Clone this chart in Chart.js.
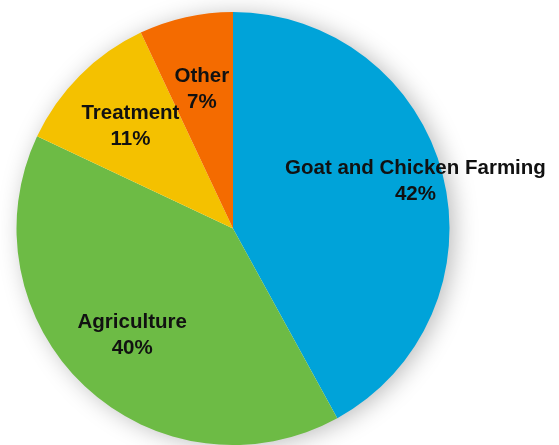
<!DOCTYPE html>
<html>
<head>
<meta charset="utf-8">
<script src="https://cdn.jsdelivr.net/npm/chart.js@4.4.1/dist/chart.umd.min.js"></script>
<style>
    html, body { margin: 0; padding: 0; background: #fff; }
    #wrap { width: 559px; height: 445px; position: relative; }
</style>
</head>
<body>
<div id="wrap"><canvas id="sectorChart"></canvas></div>
<script>
// Share of activity by sector (percent)
const sectors = ['Goat and Chicken Farming', 'Agriculture', 'Treatment', 'Other'];
const shares = [42, 40, 11, 7];
const sliceColors = ['#00A3D9', '#6DBB45', '#F4C100', '#F46B00'];

// soft grey shadow behind the whole pie
const pieShadow = {
    id: 'pieShadow',
    beforeDatasetsDraw(chart) {
        const arc = chart.getDatasetMeta(0).data[0];
        if (!arc) return;
        const ctx = chart.ctx;
        ctx.save();
        ctx.shadowColor = 'rgba(0,0,0,0.28)';
        ctx.shadowBlur = 24;
        ctx.shadowOffsetX = 5;
        ctx.shadowOffsetY = 2;
        ctx.fillStyle = '#fff';
        ctx.beginPath();
        ctx.arc(arc.x, arc.y, arc.outerRadius - 1, 0, Math.PI * 2);
        ctx.fill();
        ctx.restore();
    }
};

// name + percent written inside each slice
const sliceLabels = {
    id: 'sliceLabels',
    afterDatasetsDraw(chart, args, opts) {
        const ctx = chart.ctx;
        const meta = chart.getDatasetMeta(0);
        ctx.save();
        ctx.fillStyle = '#111';
        ctx.font = 'bold 20.5px "Liberation Sans", Arial, sans-serif';
        ctx.textAlign = 'center';
        ctx.textBaseline = 'middle';
        meta.data.forEach((arc, i) => {
            const mid = (arc.startAngle + arc.endAngle) / 2;
            const r = arc.outerRadius * opts.radius[i];
            const x = arc.x + Math.cos(mid) * r;
            const y = arc.y + Math.sin(mid) * r;
            ctx.fillText(chart.data.labels[i], x, y - 13);
            ctx.fillText(shares[i] + '%', x, y + 13);
        });
        ctx.restore();
    }
};

new Chart(document.getElementById('sectorChart').getContext('2d'), {
    type: 'pie',
    data: {
        labels: sectors,
        datasets: [{
            data: shares,
            backgroundColor: sliceColors,
            borderWidth: 0
        }]
    },
    options: {
        responsive: true,
        maintainAspectRatio: false,
        animation: false,
        layout: {
            padding: { left: 16, right: 109, top: 12, bottom: 0 }
        },
        plugins: {
            legend: { display: false },
            tooltip: { enabled: false },
            sliceLabels: { radius: [0.87, 0.68, 0.67, 0.66] }
        }
    },
    plugins: [pieShadow, sliceLabels]
});
</script>
</body>
</html>
